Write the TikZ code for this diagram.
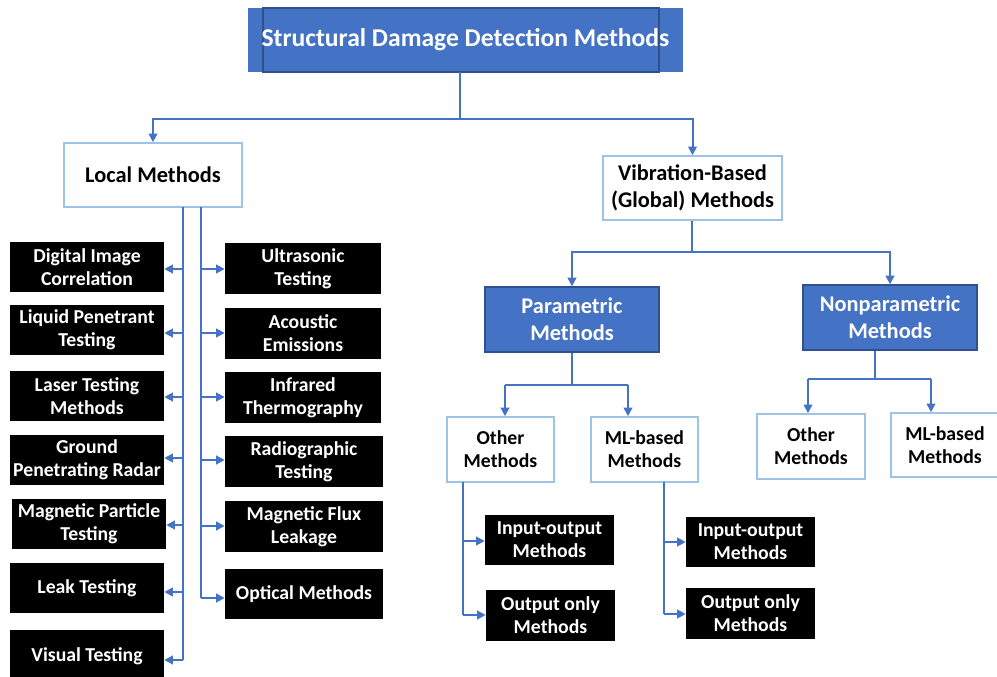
\documentclass[tikz,border=0pt]{standalone}
\usepackage{fontspec}
\setmainfont{Carlito}
\usetikzlibrary{arrows.meta}
\definecolor{mblue}{HTML}{4472C4}
\definecolor{dblue}{HTML}{2F528F}
\definecolor{lblue}{HTML}{9DC3E6}
\tikzset{
  box/.style n args={4}{at={({(#1+#3)/2},{(#2+#4)/2})},
     minimum width={(#3-#1)*0.75pt}, minimum height={(#4-#2)*0.75pt}},
  bxbase/.style={inner sep=0pt, align=center, font=\bfseries},
  bigfont/.style={font=\fontsize{16.8}{20.5}\selectfont\bfseries},
  smallfont/.style={font=\fontsize{14.8}{17.25}\selectfont\bfseries},
  blackbox/.style={bxbase, fill=black, text=white, smallfont},
  lightbox/.style={bxbase, draw=lblue, line width=1.2pt, fill=white, text=black},
  bluebox/.style={bxbase, draw=dblue, line width=1pt, fill=mblue, text=white, bigfont},
  conn/.style={draw=mblue, line width=1.5pt},
  arr/.style={conn, -{Triangle[length=6.5pt,width=6.5pt]}},
}
\begin{document}
\begin{tikzpicture}[x=0.75pt,y=-0.75pt]
\useasboundingbox (0,0) rectangle (997,677);
% title
\node[bxbase, box={248}{8}{683}{72}, fill=mblue, text=white,
  font=\fontsize{19.2}{22}\selectfont\bfseries] (title) {};
\draw[dblue, line width=0.8pt] (263,8) rectangle (659,72);
\node[text=white, font=\fontsize{19.2}{22}\selectfont\bfseries, inner sep=0pt] at (title.center) {Structural Damage Detection Methods};
% level 2
\node[lightbox, bigfont, box={64}{143}{242}{207}] (local) {Local Methods};
\node[lightbox, bigfont, box={603}{156}{782}{220}] (vib) {Vibration-Based\\(Global) Methods};
% left column
\node[blackbox, box={10}{242}{164}{292}] (dic) {Digital Image\\Correlation};
\node[blackbox, box={10}{305}{164}{355}] (lpt) {Liquid Penetrant\\Testing};
\node[blackbox, box={10}{371}{164}{421}] (ltm) {Laser Testing\\Methods};
\node[blackbox, box={10}{435}{164}{485}] (gpr) {Ground\\Penetrating Radar};
\node[blackbox, box={12}{499}{166}{549}] (mpt) {Magnetic Particle\\Testing};
\node[blackbox, box={10}{563}{164}{613}] (lkt) {Leak Testing};
\node[blackbox, box={10}{630}{164}{682}] (vis) {Visual Testing};
% right column
\node[blackbox, box={225}{243}{381}{294}] (ult) {Ultrasonic\\Testing};
\node[blackbox, box={225}{308}{381}{359}] (ace) {Acoustic\\Emissions};
\node[blackbox, box={225}{372}{381}{423}] (irt) {Infrared\\Thermography};
\node[blackbox, box={225}{436}{383}{487}] (rad) {Radiographic\\Testing};
\node[blackbox, box={225}{501}{383}{552}] (mfl) {Magnetic Flux\\Leakage};
\node[blackbox, box={225}{569}{383}{619}] (opt) {Optical Methods};
% vibration branch
\node[bluebox, box={485}{287}{659}{352}] (para) {Parametric\\Methods};
\node[bluebox, box={803}{285}{977}{350}] (npara) {Nonparametric\\Methods};
\node[lightbox, smallfont, box={447}{417}{554}{482}] (po) {Other\\Methods};
\node[lightbox, smallfont, box={591}{417}{698}{482}] (pm) {ML-based\\Methods};
\node[lightbox, smallfont, box={757}{414}{865}{479}] (no) {Other\\Methods};
\node[lightbox, smallfont, box={891}{413}{999}{477}] (nm) {ML-based\\Methods};
\node[blackbox, box={485}{515}{614}{565}] (io1) {Input-output\\Methods};
\node[blackbox, box={486}{590}{615}{641}] (oo1) {Output only\\Methods};
\node[blackbox, box={686}{517}{815}{567}] (io2) {Input-output\\Methods};
\node[blackbox, box={686}{588}{815}{639}] (oo2) {Output only\\Methods};
% connectors top
\coordinate (t1) at (460,119);
\draw[conn] (title.south -| t1) -- (t1);
\draw[arr] (t1) -| (local.north);
\draw[arr] (t1) -| (vib.north);
% local spines
\coordinate (sl) at (183,207);
\coordinate (sr) at (201,207);
\draw[conn] (sl) -- (183,660);
\draw[conn] (sr) -- (201,598);
\foreach \n/\y in {dic/269,lpt/333,ltm/397,gpr/458,mpt/525,lkt/592,vis/660}
  \draw[arr] (183,\y) -- (\n.east |- 0,\y);
\foreach \n/\y in {ult/269,ace/333,irt/397,rad/460,mfl/526,opt/598}
  \draw[arr] (201,\y) -- (\n.west |- 0,\y);
% vib
\coordinate (v1) at (692,252);
\draw[conn] (vib.south -| v1) -- (v1);
\draw[arr] (v1) -| (para.north);
\draw[arr] (v1) -| (npara.north);
% para
\coordinate (p1) at (572,385);
\coordinate (pa) at (505,385);
\coordinate (pb) at (628,385);
\draw[conn] (para.south -| p1) -- (p1);
\draw[conn] (pa) -- (pb);
\draw[arr] (pa) -- (pa |- po.north);
\draw[arr] (pb) -- (pb |- pm.north);
% nonpara
\coordinate (n1) at (875,379);
\coordinate (na) at (808,379);
\coordinate (nb) at (931,379);
\draw[conn] (npara.south -| n1) -- (n1);
\draw[conn] (na) -- (nb);
\draw[arr] (na) -- (na |- no.north);
\draw[arr] (nb) -- (nb |- nm.north);
% sub spines
\coordinate (s1) at (463,482);
\coordinate (s2) at (664,482);
\draw[conn] (s1) -- (463,615);
\draw[conn] (s2) -- (664,614);
\draw[arr] (463,541) -- (io1.west |- 0,541);
\draw[arr] (463,615) -- (oo1.west |- 0,615);
\draw[arr] (664,542) -- (io2.west |- 0,542);
\draw[arr] (664,614) -- (oo2.west |- 0,614);
\end{tikzpicture}
\end{document}
